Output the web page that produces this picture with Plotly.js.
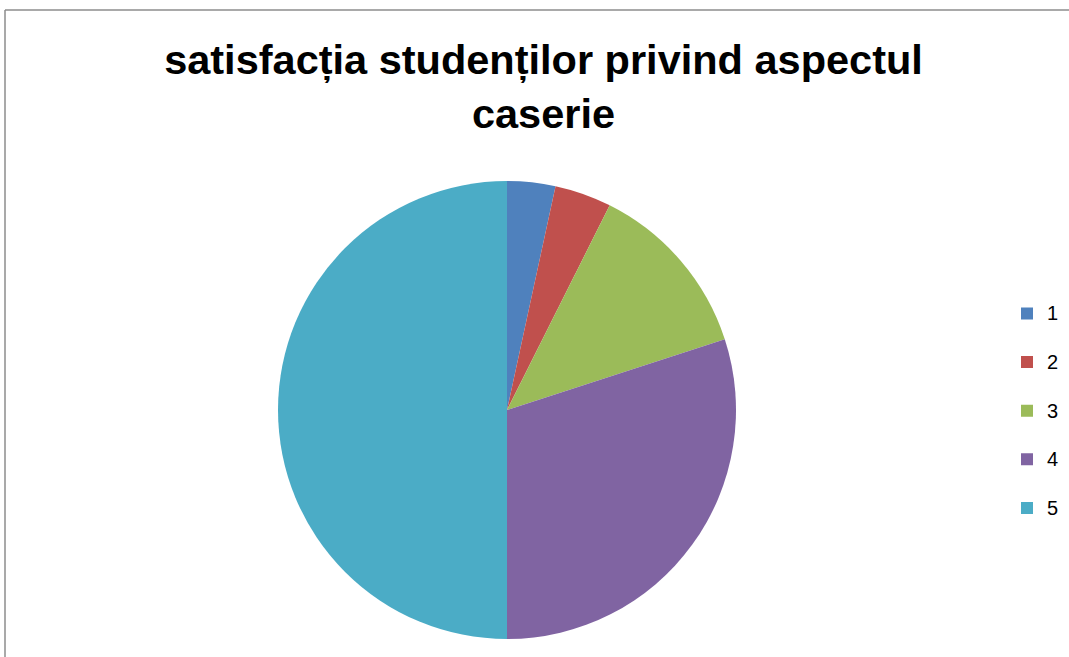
<!DOCTYPE html>
<html>
<head>
<meta charset="utf-8">
<script src="https://cdn.plot.ly/plotly-3.0.1.min.js"></script>
<style>html,body{margin:0;padding:0;background:#fff;}#chart{width:1069px;height:657px;}</style>
</head>
<body>
<div id="chart"></div>
<script>
var labels = ["1", "2", "3", "4", "5"];
var values = [3.4, 4.0, 12.6, 30.0, 50.0];
var colors = ["#4F81BD", "#C0504D", "#9BBB59", "#8064A2", "#4BACC6"];
var titleText = "satisfacția studenților privind aspectul<br>caserie";

var W = 1069, H = 657;
var cx = 507, cy = 410, r = 229;

// two-line legend labels (blank second line) give the wide entry spacing of the reference
var legendLabels = labels.map(function (l) {
  return '<span style="font-size:20px">' + l + '</span><br>\u00a0';
});

var data = [{
  type: "pie",
  labels: legendLabels,
  values: values,
  sort: false,
  direction: "clockwise",
  rotation: 0,
  textinfo: "none",
  hoverinfo: "value",
  marker: {colors: colors, line: {width: 0}},
  domain: {x: [(cx - r) / W, (cx + r) / W], y: [1 - (cy + r) / H, 1 - (cy - r) / H]}
}];

var layout = {
  width: W, height: H,
  margin: {l: 0, r: 0, t: 0, b: 0},
  paper_bgcolor: "#fff",
  title: {
    text: titleText,
    font: {family: "Liberation Sans, Arial, sans-serif", size: 41.5, color: "#000", weight: "bold"},
    x: 543.5 / W, xanchor: "center", y: 1 - 74 / H, yanchor: "top"
  },
  legend: {
    x: 1007 / W, xanchor: "left", y: 1 - 295.5 / H, yanchor: "top",
    font: {family: "Liberation Sans, Arial, sans-serif", size: 17.55, color: "#000"},
    valign: "top",
    bgcolor: "rgba(0,0,0,0)", itemwidth: 30
  },
  showlegend: true,
  shapes: [
    {type: "line", xref: "paper", yref: "paper", x0: 5 / W, x1: 1.01, y0: 1 - 10 / H, y1: 1 - 10 / H, line: {color: "#8C8C8C", width: 1.5}},
    {type: "line", xref: "paper", yref: "paper", x0: 5 / W, x1: 5 / W, y0: 1 - 10 / H, y1: -0.01, line: {color: "#8C8C8C", width: 1.5}}
  ]
};

Plotly.newPlot("chart", data, layout, {displayModeBar: false, staticPlot: true});
</script>
</body>
</html>
